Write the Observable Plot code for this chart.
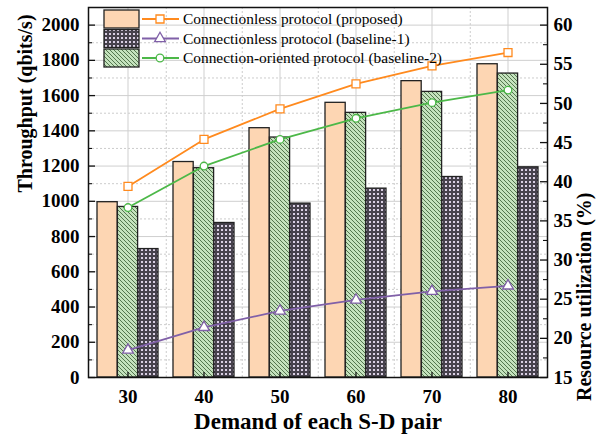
<!DOCTYPE html>
<html>
<head>
<meta charset="utf-8">
<script src="https://cdn.jsdelivr.net/npm/d3@7"></script>
<script src="https://cdn.jsdelivr.net/npm/@observablehq/plot@0.6"></script>
<style>
  html, body { margin: 0; padding: 0; background: #fff; }
  #chart svg { display: block; }
</style>
</head>
<body>
<div id="chart"></div>
<script>
// ---- data ----
const demands = [30, 40, 50, 60, 70, 80];
const thrProposed  = [995, 1223, 1415, 1559, 1682, 1778];
const thrBaseline2 = [968, 1188, 1362, 1502, 1621, 1725];
const thrBaseline1 = [729, 877, 987, 1072, 1138, 1193];
const utilProposed  = [39.4, 45.4, 49.3, 52.5, 54.8, 56.5];
const utilBaseline2 = [36.7, 42.0, 45.4, 48.1, 50.1, 51.7];
const utilBaseline1 = [18.5, 21.4, 23.5, 24.9, 26.0, 26.7];
const leftTicks = [0, 200, 400, 600, 800, 1000, 1200, 1400, 1600, 1800, 2000];
const leftMinor = [100, 300, 500, 700, 900, 1100, 1300, 1500, 1700, 1900];
const rightTicks = [15, 20, 25, 30, 35, 40, 45, 50, 55, 60];
const rightMinor = [17.5, 22.5, 27.5, 32.5, 37.5, 42.5, 47.5, 52.5, 57.5];
const seriesNames = ["Connectionless protocol (proposed)", "Connectionless protocol (baseline-1)", "Connection-oriented protocol (baseline-2)"];

// ---- layout ----
const W = 609, H = 441;
const ML = 88, MR = 62, MT = 7, MB = 64;
const PW = W - ML - MR, PH = H - MT - MB;
const yMax = 2100, rMin = 15, rMax = 62.25;
const toLeft = r => (r - rMin) * yMax / (rMax - rMin);
const fromLeft = v => v * (rMax - rMin) / yMax + rMin;
const padIn = 0.2, padOut = 0.1;
const step = PW / (demands.length - padIn + 2 * padOut);
const bw = step * (1 - padIn);

const rows = demands.map((d, i) => ({
  demand: d,
  p: thrProposed[i], b2: thrBaseline2[i], b1: thrBaseline1[i],
  up: toLeft(utilProposed[i]), ub2: toLeft(utilBaseline2[i]), ub1: toLeft(utilBaseline1[i])
}));

const cOrange = "#ff8a1e", cPurple = "#8060a8", cGreen = "#4cb848";
const peach = "#fdd6b3";
const serif = "'Liberation Serif', 'Times New Roman', serif";

function defs() {
  const g = d3.create("svg:defs");
  const h = g.append("pattern").attr("id", "hatch").attr("patternUnits", "userSpaceOnUse")
    .attr("width", 4).attr("height", 4);
  h.append("rect").attr("width", 4).attr("height", 4).attr("fill", "#c4e2bd");
  h.append("path").attr("d", "M-1,-1L5,5M3,-1L5,1M-1,3L1,5").attr("stroke", "#54764f").attr("stroke-width", 1);
  const c = g.append("pattern").attr("id", "checks").attr("patternUnits", "userSpaceOnUse")
    .attr("width", 4).attr("height", 4);
  c.append("rect").attr("width", 4).attr("height", 4).attr("fill", "#47424d");
  c.append("rect").attr("x", 1).attr("y", 1).attr("width", 2).attr("height", 2).attr("fill", "#d9cfe3");
  return g.node();
}

function legend() {
  const g = d3.create("svg:g").attr("font-family", serif).attr("font-size", 15.4)
    .attr("font-weight", "normal").attr("text-anchor", "start");
  const items = [
    {fill: peach, color: cOrange, sym: d3.symbolSquare, size: 64},
    {fill: "url(#checks)", color: cPurple, sym: d3.symbolTriangle, size: 50},
    {fill: "url(#hatch)", color: cGreen, sym: d3.symbolCircle, size: 46}
  ];
  items.forEach((it, i) => {
    const cy = 19 + i * 19.5;
    g.append("rect").attr("x", 104).attr("y", cy - 9).attr("width", 35).attr("height", 18)
      .attr("fill", it.fill).attr("stroke", "#222").attr("stroke-width", 1.3);
    g.append("line").attr("x1", 142).attr("x2", 179).attr("y1", cy).attr("y2", cy)
      .attr("stroke", it.color).attr("stroke-width", 1.8);
    g.append("path").attr("d", d3.symbol(it.sym, it.size)()).attr("transform", `translate(160,${cy})`)
      .attr("fill", "#fff").attr("stroke", it.color).attr("stroke-width", 1.3);
    g.append("text").attr("x", 183).attr("y", cy + 5).attr("fill", "#000")
      .attr("text-anchor", "start").text(seriesNames[i]);
  });
  return g.node();
}

const fmt = d => String(d);

const chart = Plot.plot({
  width: W, height: H,
  marginLeft: ML, marginRight: MR, marginTop: MT, marginBottom: MB,
  style: {fontFamily: serif, background: "#fff", overflow: "visible"},
  x: {type: "band", domain: demands, paddingInner: padIn, paddingOuter: padOut, axis: null},
  y: {domain: [0, yMax], axis: null},
  marks: [
    defs,
    Plot.gridY(leftTicks, {stroke: "#cfcfcf", strokeOpacity: 1, strokeWidth: 1}),
    Plot.gridY(leftMinor, {stroke: "#cccccc", strokeOpacity: 1, strokeDasharray: "2,2"}),
    Plot.gridX(demands, {stroke: "#cfcfcf", strokeOpacity: 1}),
    Plot.gridX(demands.slice(0, -1), {dx: step / 2, stroke: "#cccccc", strokeOpacity: 1, strokeDasharray: "2,2"}),
    Plot.barY(rows, {x: "demand", y: "p", fill: peach, stroke: "#222", strokeWidth: 1.3, insetRight: bw * 2 / 3}),
    Plot.barY(rows, {x: "demand", y: "b2", fill: "url(#hatch)", stroke: "#222", strokeWidth: 1.3, insetLeft: bw / 3, insetRight: bw / 3}),
    Plot.barY(rows, {x: "demand", y: "b1", fill: "url(#checks)", stroke: "#222", strokeWidth: 1.3, insetLeft: bw * 2 / 3}),
    Plot.line(rows, {x: "demand", y: "up", stroke: cOrange, strokeWidth: 1.8}),
    Plot.line(rows, {x: "demand", y: "ub2", stroke: cGreen, strokeWidth: 1.8}),
    Plot.line(rows, {x: "demand", y: "ub1", stroke: cPurple, strokeWidth: 1.8}),
    Plot.dot(rows, {x: "demand", y: "up", symbol: "square", r: 4.5, fill: "#fff", stroke: cOrange, strokeWidth: 1.3}),
    Plot.dot(rows, {x: "demand", y: "ub2", symbol: "circle", r: 3.8, fill: "#fff", stroke: cGreen, strokeWidth: 1.3}),
    Plot.dot(rows, {x: "demand", y: "ub1", symbol: "triangle", r: 4, fill: "#fff", stroke: cPurple, strokeWidth: 1.3}),
    Plot.frame({stroke: "#111", strokeWidth: 1.5}),
    // inward ticks
    Plot.tickY(leftTicks, {y: d => d, insetRight: PW - 7, stroke: "#111", strokeWidth: 1.3}),
    Plot.tickY(leftMinor, {y: d => d, insetRight: PW - 4, stroke: "#111", strokeWidth: 1.1}),
    Plot.tickY(rightTicks.map(toLeft), {y: d => d, insetLeft: PW - 7, stroke: "#111", strokeWidth: 1.3}),
    Plot.tickY(rightMinor.map(toLeft), {y: d => d, insetLeft: PW - 4, stroke: "#111", strokeWidth: 1.1}),
    Plot.tickX(demands, {x: d => d, insetTop: PH - 5, stroke: "#111", strokeWidth: 1.3}),
    // axes
    Plot.axisY(leftTicks, {anchor: "left", tickSize: 0, tickPadding: 9, fontSize: 19, fontWeight: "bold", label: null, fill: "#000", tickFormat: fmt}),
    Plot.axisY(rightTicks.map(toLeft), {anchor: "right", tickSize: 0, tickPadding: 6, fontSize: 19, fontWeight: "bold", label: null, fill: "#000", tickFormat: d => String(Math.round(fromLeft(d)))}),
    Plot.axisX(demands, {anchor: "bottom", tickSize: 0, tickPadding: 12, fontSize: 19, fontWeight: "bold", label: null, fill: "#000", tickFormat: fmt}),
    Plot.text(["Throughput (qbits/s)"], {frameAnchor: "left", dx: -63, rotate: -90, fontSize: 20, fontWeight: "bold", fill: "#000"}),
    Plot.text(["Resource utilization (%)"], {frameAnchor: "right", dx: 37, rotate: -90, fontSize: 20, fontWeight: "bold", fill: "#000"}),
    Plot.text(["Demand of each S-D pair"], {frameAnchor: "bottom", dy: 51, fontSize: 23, fontWeight: "bold", fill: "#000"}),
    legend
  ]
});
document.getElementById("chart").appendChild(chart);
</script>
</body>
</html>
